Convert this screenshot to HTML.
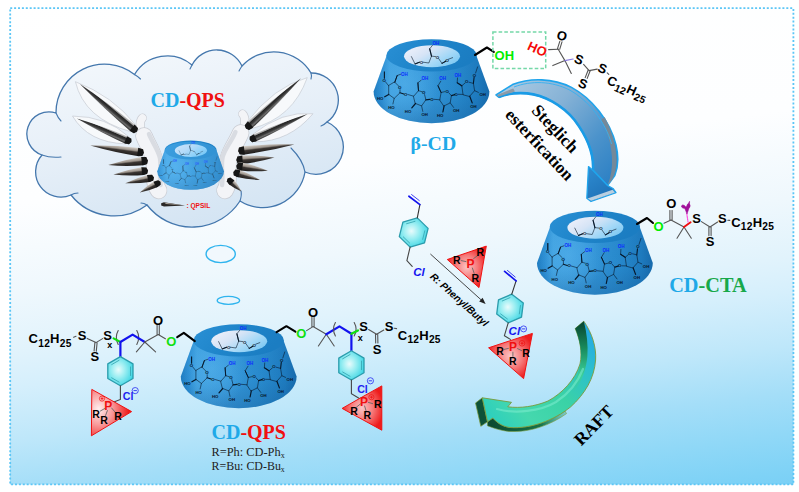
<!DOCTYPE html>
<html><head><meta charset="utf-8"><title>CD-QPS scheme</title>
<style>
html,body{margin:0;padding:0;background:#fff;}
body{width:799px;height:492px;overflow:hidden;}
svg{display:block;}
text{font-family:"Liberation Sans",sans-serif;}
.ser{font-family:"Liberation Serif",serif;}
.b{font-weight:bold;}
.ch{font-family:"Liberation Sans",sans-serif;font-weight:bold;font-size:14.5px;fill:#000;}
.sub{font-size:10px;}
.bond{stroke:#222;stroke-width:1.1;fill:none;stroke-linecap:round;}
.sg{stroke:#07182a;stroke-width:0.6;fill:none;stroke-linecap:round;stroke-linejoin:round;}
.st{font-family:"Liberation Sans",sans-serif;font-weight:bold;font-size:4.3px;fill:#06121f;}
.stb{font-family:"Liberation Sans",sans-serif;font-weight:bold;font-size:4.5px;fill:#0a2cff;}
</style></head><body>
<svg width="799" height="492" viewBox="0 0 799 492">
<defs>
<linearGradient id="bg" gradientUnits="userSpaceOnUse" x1="0" y1="0" x2="70.9" y2="580.9">
<stop offset="0" stop-color="#ffffff"/><stop offset="0.35" stop-color="#fdfeff"/><stop offset="0.5" stop-color="#eff8fd"/><stop offset="0.6" stop-color="#e1f3fc"/><stop offset="0.66" stop-color="#d5effc"/><stop offset="0.75" stop-color="#bee7fa"/><stop offset="0.83" stop-color="#a4def8"/><stop offset="0.9" stop-color="#90d8f7"/><stop offset="0.965" stop-color="#7ed2f6"/><stop offset="1" stop-color="#77cef5"/>
</linearGradient>
<linearGradient id="cloudg" x1="0.2" y1="0" x2="0.6" y2="1">
<stop offset="0" stop-color="#f4f8fc"/><stop offset="0.5" stop-color="#e6eff8"/><stop offset="1" stop-color="#d3e4f3"/>
</linearGradient>
</defs>
<rect x="0" y="0" width="799" height="492" fill="#fff"/>
<rect x="10" y="8" width="783.5" height="476.5" fill="url(#bg)"/>
<rect x="10.2" y="8.2" width="783.2" height="476.2" fill="none" stroke="#5cc6f6" stroke-width="1.8" stroke-dasharray="2 1.9"/>
<defs>
<linearGradient id="cdside" x1="0" y1="0" x2="1" y2="0">
<stop offset="0" stop-color="#1d7bc0"/><stop offset="0.07" stop-color="#288bd1"/><stop offset="0.14" stop-color="#3fa1e0"/><stop offset="0.4" stop-color="#3799db"/><stop offset="0.7" stop-color="#288acd"/><stop offset="0.9" stop-color="#1e7bbf"/><stop offset="1" stop-color="#176bad"/>
</linearGradient>
<linearGradient id="cdshade" x1="0" y1="0" x2="0" y2="1">
<stop offset="0" stop-color="#0b3c73" stop-opacity="0"/><stop offset="0.6" stop-color="#0b3c73" stop-opacity="0.02"/><stop offset="1" stop-color="#0b3c73" stop-opacity="0.22"/>
</linearGradient>
<radialGradient id="cdlite" gradientUnits="userSpaceOnUse" cx="405" cy="84" r="34" gradientTransform="translate(405,84) scale(1,1.2) translate(-405,-84)">
<stop offset="0" stop-color="#58b4ee" stop-opacity="0.55"/><stop offset="1" stop-color="#58b4ee" stop-opacity="0"/>
</radialGradient>
<linearGradient id="cdrim" x1="0" y1="0" x2="1" y2="0.3">
<stop offset="0" stop-color="#2a90d5"/><stop offset="0.5" stop-color="#1f85ca"/><stop offset="1" stop-color="#1b7dc2"/>
</linearGradient>
<linearGradient id="cdhole" x1="0.05" y1="0.2" x2="0.95" y2="0.8">
<stop offset="0" stop-color="#eceffa"/><stop offset="0.35" stop-color="#d6e4f6"/><stop offset="0.7" stop-color="#a3d8f7"/><stop offset="1" stop-color="#7cc8f2"/>
</linearGradient>
<!-- Cyclodextrin cone, drawn in beta-CD page coordinates -->
<g id="cd">
<path d="M386.5 56 L373.6 91.5 A57.9 31.8 0 0 0 489.4 91.5 L476.5 56 Z" fill="url(#cdside)"/>
<path d="M386.5 56 L373.6 91.5 A57.9 31.8 0 0 0 489.4 91.5 L476.5 56 Z" fill="url(#cdshade)"/>
<path d="M386.5 56 L373.6 91.5 A57.9 31.8 0 0 0 489.4 91.5 L476.5 56 Z" fill="url(#cdlite)"/>
<ellipse cx="431.5" cy="55.4" rx="45.2" ry="16.2" fill="url(#cdrim)"/>
<ellipse cx="432" cy="56.2" rx="28" ry="11" fill="url(#cdhole)"/>
<g transform="translate(0.2,-0.4)">
<!-- hole structure -->
<g class="sg">
<path d="M411.2 57 L414.8 64.3 L419.2 62.6 M423 62.6 L428.6 63.4 L431.3 56.5 L429.5 49.2 L432.2 45.8 M431.3 56.5 L435.4 57 M438.6 59.2 L441.8 63.8 L445.5 61.6"/>
<path d="M448.3 59.6 L452.8 57.9" stroke-dasharray="1 0.7"/>
<path d="M414.8 64.3 L419.2 62.6" stroke-width="1.1"/><path d="M431.3 56.5 L429.5 49.2" stroke-width="1.1"/><path d="M441.8 63.8 L445.5 61.6" stroke-width="1.1"/>
</g>
<text class="st" x="419.5" y="64">O</text><text class="st" x="435.6" y="59.2">O</text><text class="st" x="445.2" y="62.4">O</text>
<text class="stb" x="432.4" y="45.2">OH</text>
<!-- ring 1 -->
<g class="sg">
<path d="M394.6 82.6 L399.8 87.8 L399.8 93.2 L394 98.8 L388.5 94.8 L388.5 86.2 Z M394.6 82.6 L397 75.9 L400.6 74.6"/>
<path d="M388.5 86.2 L385.4 82.4 M384.2 78.6 L384.2 72.4"/>
<path d="M388.5 94.8 L384.5 97.2" stroke-width="1.2"/>
<path d="M394 98.8 L392.7 104.5" stroke-dasharray="0.9 0.7"/>
<path d="M399.8 93.2 L403.6 94.4" stroke-width="1.2"/>
<path d="M407.6 94.9 L413.5 96.6"/>
<path d="M394.6 82.6 L397 75.9" stroke-width="1.0"/>
<path d="M384.2 78.6 L384.2 72.4" stroke-width="1.0"/>
</g>
<circle cx="399.7" cy="87.9" r="1.9" fill="#3a9bdb"/><text class="st" x="397.9" y="89.5">O</text><text class="st" x="382.4" y="82.4">O</text><text class="st" x="403.8" y="96">O</text>
<text class="stb" x="400.8" y="76.3">OH</text>
<text class="st" x="376.8" y="100.6">HO</text><text class="st" x="388" y="109.6">HO</text>
<!-- ring 2 -->
<g class="sg">
<path d="M413.5 96.6 L418.3 91.1 L423.8 92.7 L425.7 100.2 L421.4 106.3 L415.3 103.9 Z M418.3 91.1 L417.7 83.2 L421 80.6"/>
<path d="M418.3 91.1 L417.7 83.2" stroke-width="1.0"/>
<path d="M415.3 103.9 L411.6 108.2" stroke-width="1.2"/>
<path d="M421.4 106.3 L422.6 111.8" stroke-dasharray="0.9 0.7"/>
<path d="M425.7 100.2 L429.6 99.7" stroke-width="1.2"/>
<path d="M433.8 99.7 L439.6 100.2"/>
</g>
<circle cx="423.6" cy="92.9" r="1.9" fill="#3294d6"/><text class="st" x="421.8" y="94.5">O</text><text class="st" x="430" y="101.3">O</text>
<text class="stb" x="421.4" y="80.9">OH</text>
<text class="st" x="404.6" y="113.2">HO</text><text class="st" x="421.2" y="116.9">OH</text>
<!-- ring 3 -->
<g class="sg">
<path d="M439.6 100.2 L440.9 92.9 L447 91.5 L451.2 96 L450 103.3 L443.9 106.3 Z M440.9 92.9 L437.8 86.2 L440.6 81.6"/>
<path d="M440.9 92.9 L437.8 86.2" stroke-width="1.0"/>
<path d="M443.9 106.3 L442.7 112.4" stroke-width="1.2"/>
<path d="M450 103.3 L453.7 108.2" stroke-dasharray="0.9 0.7"/>
<path d="M451.2 96 L454.6 95" stroke-width="1.2"/>
<path d="M458.2 94.7 L462.8 94.8"/>
</g>
<circle cx="447.0" cy="91.7" r="1.9" fill="#2a8cd0"/><text class="st" x="445.2" y="93.3">O</text><text class="st" x="454.4" y="96.3">O</text>
<text class="stb" x="439" y="80.9">OH</text>
<text class="st" x="436.8" y="117.5">HO</text><text class="st" x="452.8" y="112.6">OH</text>
<!-- ring 4 -->
<g class="sg">
<path d="M462.8 94.8 L461.6 86.2 L466.5 82 L473.2 83.8 L474.4 91.1 L469.5 96.6 Z M461.6 86.2 L457 83.2 L457.3 78.3"/>
<path d="M461.6 86.2 L457 83.2" stroke-width="1.1"/>
<path d="M473.2 83.8 L473.9 77.6" stroke-width="1.1"/>
<path d="M475.4 73.4 L477.4 67.3"/>
<path d="M474.4 91.1 L478.7 93" stroke-dasharray="0.9 0.7"/>
<path d="M469.5 96.6 L472 103.3" stroke-width="1.2"/>
</g>
<circle cx="466.6" cy="82.2" r="1.9" fill="#2484c9"/><text class="st" x="464.8" y="83.8">O</text><text class="st" x="472.6" y="77.3">O</text>
<text class="stb" x="454.2" y="77.2">OH</text>
<text class="st" x="479.2" y="96.8">OH</text><text class="st" x="470" y="108.4">OH</text>
</g>
</g>
</defs>
<!-- cloud -->
<g>
<path d="M 56 113 A 48.5 48.5 0 0 1 134.5 74.5 A 38.2 38.2 0 0 1 192 65 A 27.9 27.9 0 0 1 242 66 A 43.1 43.1 0 0 1 311 73 A 27.0 27.0 0 0 1 327 122 A 27.3 27.3 0 1 1 305 172 A 42.8 42.8 0 0 1 240 201 A 57.1 57.1 0 0 1 147 205 A 55.1 55.1 0 0 1 71 195 A 25.3 25.3 0 0 1 42 155 A 22.1 22.1 0 1 1 56 113 Z" fill="url(#cloudg)" stroke="#4477ad" stroke-width="1.3" stroke-linejoin="round"/>
<!-- inner tails -->
<g fill="none" stroke="#4477ad" stroke-width="1.1" stroke-linecap="round">
<path d="M56 113 q2 5 5 8"/>
<path d="M134.5 74.5 q3.5 2 6 4.5"/>
<path d="M192 65 q-1 2 -2 4"/>
<path d="M242 66 q-2 3 -3 5"/>
<path d="M311 73 q1 3 0 6"/>
<path d="M327 122 q-3 3 -6 4"/>
<path d="M305 172 q-2 -12 -14 -24"/>
<path d="M240 201 q2 -6 1 -10"/>
<path d="M147 205 q-3 -2 -6 -2"/>
<path d="M71 195 q3 -2 7 -2"/>
<path d="M42 155 q8 3 19 2"/>
</g>
</g>
<!-- thought bubbles -->
<ellipse cx="220.7" cy="254" rx="14.6" ry="8.6" fill="#f1f8fd" stroke="#2fb4ee" stroke-width="1.4"/>
<ellipse cx="228.4" cy="300.4" rx="11.2" ry="4" fill="#e9f5fc" stroke="#2fb4ee" stroke-width="1.3"/>
<!-- cloud label -->
<text class="ser b" x="150.5" y="107" font-size="20"><tspan fill="#1fa9e8">CD</tspan><tspan fill="#f01010">-QPS</tspan></text>
<defs>
<linearGradient id="fa" x1="0" y1="0" x2="0" y2="1"><stop offset="0" stop-color="#d9d3cc"/><stop offset="0.38" stop-color="#9c948c"/><stop offset="0.55" stop-color="#3a3532"/><stop offset="1" stop-color="#1d1b1a"/></linearGradient>
<linearGradient id="fb" x1="0" y1="1" x2="0" y2="0"><stop offset="0" stop-color="#d9d3cc"/><stop offset="0.38" stop-color="#9c948c"/><stop offset="0.55" stop-color="#3a3532"/><stop offset="1" stop-color="#1d1b1a"/></linearGradient>
<linearGradient id="fc" x1="0" y1="0" x2="0" y2="1"><stop offset="0" stop-color="#d8d8d8"/><stop offset="0.2" stop-color="#9a9a9a"/><stop offset="0.3" stop-color="#242424"/><stop offset="0.55" stop-color="#3a3a3a"/><stop offset="0.75" stop-color="#6e6e6e"/><stop offset="1" stop-color="#2a2a2a"/></linearGradient>
<linearGradient id="fd" x1="0" y1="1" x2="0" y2="0"><stop offset="0" stop-color="#d8d8d8"/><stop offset="0.2" stop-color="#9a9a9a"/><stop offset="0.3" stop-color="#242424"/><stop offset="0.55" stop-color="#3a3a3a"/><stop offset="0.75" stop-color="#6e6e6e"/><stop offset="1" stop-color="#2a2a2a"/></linearGradient>
<linearGradient id="rootg" x1="0" y1="0" x2="1" y2="0"><stop offset="0" stop-color="#c9ccd2"/><stop offset="0.5" stop-color="#f6f7f9"/><stop offset="1" stop-color="#e2e4e8"/></linearGradient>
</defs>
<!-- wings -->
<path d="M142.4 118 C139.6 121 139.6 127 141.6 132" fill="none" stroke="#c9ccd3" stroke-width="9" stroke-linecap="round"/>
<path d="M142.4 118 C139.6 121 139.6 127 141.6 132" fill="none" stroke="#f3f4f7" stroke-width="7.6" stroke-linecap="round"/>
<path d="M144 136 C147 144 152 150 154 159 C155.6 168 153.6 177 155.6 184 C156.6 187 157.6 189 158.6 190.4" fill="none" stroke="#c9ccd3" stroke-width="17.5" stroke-linecap="round" stroke-linejoin="round"/>
<path d="M144 136 C147 144 152 150 154 159 C155.6 168 153.6 177 155.6 184 C156.6 187 157.6 189 158.6 190.4" fill="none" stroke="#f3f4f7" stroke-width="16" stroke-linecap="round" stroke-linejoin="round"/>
<path d="M149 134 C152 142 158 149 160 158 C161.6 167 159 177 160.6 185" fill="none" stroke="#d9dce2" stroke-width="4.5" stroke-linecap="round"/>
<path d="M242.6 114 C245.4 117 245.4 123 243.4 128" fill="none" stroke="#c9ccd3" stroke-width="9" stroke-linecap="round"/>
<path d="M242.6 114 C245.4 117 245.4 123 243.4 128" fill="none" stroke="#f3f4f7" stroke-width="7.6" stroke-linecap="round"/>
<path d="M240.6 133 C237 142 231 149 228.6 158 C226.6 167 229 177 227.4 184 C226.8 187 226 189 225 190.4" fill="none" stroke="#c9ccd3" stroke-width="17.5" stroke-linecap="round" stroke-linejoin="round"/>
<path d="M240.6 133 C237 142 231 149 228.6 158 C226.6 167 229 177 227.4 184 C226.8 187 226 189 225 190.4" fill="none" stroke="#f3f4f7" stroke-width="16" stroke-linecap="round" stroke-linejoin="round"/>
<path d="M235.4 132 C232 141 225 148 222.6 157 C220.6 166 223.4 177 222 185" fill="none" stroke="#d9dce2" stroke-width="4.5" stroke-linecap="round"/>
<g transform="translate(79.9,84.1) rotate(39.7)"><path d="M-5 1.0 Q32.8 -12.0 69.9 -4.0 L69.9 4.0 Q25.5 24.0 -5 1.0 Z" fill="#f8f9fb" fill-opacity="0.95" stroke="#c3c8d0" stroke-width="0.6"/><path d="M0 0 Q32.8 -3.4 69.4 -4.0 L72.9 -3.2 L74.1 0 L72.9 3.2 L69.4 4.0 Q32.8 3.4 0 0 Z" fill="url(#fc)"/><path d="M67.9 -3.9 L72.9 -3.2 L74.1 0 L72.9 3.2 L67.9 3.9 Z" fill="#161616"/></g>
<g transform="translate(76.9,118.4) rotate(23.5)"><path d="M-5 -0.4 Q26.2 -13.8 55.1 -3.8 L55.1 3.8 Q20.3 17.8 -5 -0.4 Z" fill="#f8f9fb" fill-opacity="0.95" stroke="#c3c8d0" stroke-width="0.6"/><path d="M0 0 Q26.2 -3.2 54.6 -3.8 L58.1 -3.0 L59.3 0 L58.1 3.0 L54.6 3.8 Q26.2 3.2 0 0 Z" fill="url(#fc)"/><path d="M53.1 -3.7 L58.1 -3.0 L59.3 0 L58.1 3.0 L53.1 3.7 Z" fill="#161616"/></g>
<g transform="translate(90.3,145.6) rotate(7.6)"><path d="M0 0 Q23.7 -3.6 49.3 -4.2 L52.8 -3.4 L54.0 0 L52.8 3.4 L49.3 4.2 Q23.7 3.6 0 0 Z" fill="url(#fa)"/><path d="M47.8 -4.1 L52.8 -3.4 L54.0 0 L52.8 3.4 L47.8 4.1 Z" fill="#161616"/></g>
<g transform="translate(108.1,165.1) rotate(-6.7)"><path d="M0 0 Q17.4 -3.7 35.3 -4.3 L38.8 -3.5 L40.0 0 L38.8 3.5 L35.3 4.3 Q17.4 3.7 0 0 Z" fill="url(#fa)"/><path d="M33.8 -4.2 L38.8 -3.5 L40.0 0 L38.8 3.5 L33.8 4.2 Z" fill="#161616"/></g>
<g transform="translate(113.4,174.6) rotate(-6.8)"><path d="M0 0 Q15.1 -3.4 30.1 -4.0 L33.6 -3.2 L34.8 0 L33.6 3.2 L30.1 4.0 Q15.1 3.4 0 0 Z" fill="url(#fa)"/><path d="M28.6 -3.9 L33.6 -3.2 L34.8 0 L33.6 3.2 L28.6 3.9 Z" fill="#161616"/></g>
<g transform="translate(125.3,183.2) rotate(-11.6)"><path d="M0 0 Q12.5 -3.1 24.4 -3.7 L27.9 -2.9 L29.1 0 L27.9 2.9 L24.4 3.7 Q12.5 3.1 0 0 Z" fill="url(#fa)"/><path d="M22.9 -3.6 L27.9 -2.9 L29.1 0 L27.9 2.9 L22.9 3.6 Z" fill="#161616"/></g>
<g transform="translate(139.8,192.5) rotate(-27.3)"><path d="M0 0 Q9.9 -2.8 18.5 -3.3 L22.0 -2.5 L23.2 0 L22.0 2.5 L18.5 3.3 Q9.9 2.8 0 0 Z" fill="url(#fa)"/><path d="M17.0 -3.2 L22.0 -2.5 L23.2 0 L22.0 2.5 L17.0 3.2 Z" fill="#161616"/></g>
<g transform="translate(301.0,78.2) rotate(137.6)"><path d="M-5 -3.8 Q33.0 -24.0 70.3 -4.0 L70.3 4.0 Q25.6 12.0 -5 -3.8 Z" fill="#f8f9fb" fill-opacity="0.95" stroke="#c3c8d0" stroke-width="0.6"/><path d="M0 0 Q33.0 -3.4 69.8 -4.0 L73.3 -3.2 L74.5 0 L73.3 3.2 L69.8 4.0 Q33.0 3.4 0 0 Z" fill="url(#fd)"/><path d="M68.3 -3.9 L73.3 -3.2 L74.5 0 L73.3 3.2 L68.3 3.9 Z" fill="#161616"/></g>
<g transform="translate(307.6,114.0) rotate(155.7)"><path d="M-5 -2.0 Q28.0 -17.8 59.2 -3.8 L59.2 3.8 Q21.8 13.8 -5 -2.0 Z" fill="#f8f9fb" fill-opacity="0.95" stroke="#c3c8d0" stroke-width="0.6"/><path d="M0 0 Q28.0 -3.2 58.7 -3.8 L62.2 -3.0 L63.4 0 L62.2 3.0 L58.7 3.8 Q28.0 3.2 0 0 Z" fill="url(#fd)"/><path d="M57.2 -3.7 L62.2 -3.0 L63.4 0 L62.2 3.0 L57.2 3.7 Z" fill="#161616"/></g>
<g transform="translate(294.4,144.4) rotate(173.2)"><path d="M0 0 Q24.9 -3.6 51.9 -4.2 L55.4 -3.4 L56.6 0 L55.4 3.4 L51.9 4.2 Q24.9 3.6 0 0 Z" fill="url(#fb)"/><path d="M50.4 -4.1 L55.4 -3.4 L56.6 0 L55.4 3.4 L50.4 4.1 Z" fill="#161616"/></g>
<g transform="translate(274.5,157.6) rotate(176.3)"><path d="M0 0 Q16.6 -3.7 33.5 -4.3 L37.0 -3.5 L38.2 0 L37.0 3.5 L33.5 4.3 Q16.6 3.7 0 0 Z" fill="url(#fb)"/><path d="M32.0 -4.2 L37.0 -3.5 L38.2 0 L37.0 3.5 L32.0 4.2 Z" fill="#161616"/></g>
<g transform="translate(267.9,170.8) rotate(-171.0)"><path d="M0 0 Q13.8 -3.4 27.2 -4.0 L30.7 -3.2 L31.9 0 L30.7 3.2 L27.2 4.0 Q13.8 3.4 0 0 Z" fill="url(#fb)"/><path d="M25.7 -3.9 L30.7 -3.2 L31.9 0 L30.7 3.2 L25.7 3.9 Z" fill="#161616"/></g>
<g transform="translate(260.0,180.0) rotate(-163.3)"><path d="M0 0 Q11.9 -3.1 23.0 -3.7 L26.5 -2.9 L27.7 0 L26.5 2.9 L23.0 3.7 Q11.9 3.1 0 0 Z" fill="url(#fb)"/><path d="M21.5 -3.6 L26.5 -2.9 L27.7 0 L26.5 2.9 L21.5 3.6 Z" fill="#161616"/></g>
<g transform="translate(241.5,191.5) rotate(-136.8)"><path d="M0 0 Q8.0 -2.8 14.2 -3.3 L17.7 -2.5 L18.9 0 L17.7 2.5 L14.2 3.3 Q8.0 2.8 0 0 Z" fill="url(#fb)"/><path d="M12.7 -3.2 L17.7 -2.5 L18.9 0 L17.7 2.5 L12.7 3.2 Z" fill="#161616"/></g>
<use href="#cd" transform="translate(-57.5,117.5) scale(0.575,0.587)"/>
<path d="M164.7 150.4 L157.3 171.2 A33.3 18.7 0 0 0 223.9 171.2 L216.5 150.4 A26 9.5 0 0 0 164.7 150.4 Z" fill="#6cc8ff" fill-opacity="0.3"/>
<path d="M161.2 203.2 L164 202.2 L185 205.6 L164 206.4 L161.2 205.4 Z" fill="#2a2826"/>
<path d="M164 202.4 L185 205.6 L166 204 Z" fill="#a8a098"/>
<text x="186.4" y="207.6" font-weight="bold" font-size="6.6" fill="#f01010">: QPSIL</text>
<!-- beta-CD -->
<use href="#cd"/>
<text class="ser b" x="410.6" y="150.1" font-size="19.8" fill="#1fa9e8">β-CD</text>
<!-- CD-CTA -->
<use href="#cd" transform="translate(163.4,171.5)"/>
<text class="ser b" x="669.2" y="291.6" font-size="20.3"><tspan fill="#1fa9e8">CD</tspan><tspan fill="#17a84a">-CTA</tspan></text>
<!-- CD-QPS -->
<use href="#cd" transform="translate(-192.8,285)"/>
<text class="ser b" x="211.5" y="438.9" font-size="20"><tspan fill="#1fa9e8">CD</tspan><tspan fill="#f01010">-QPS</tspan></text>
<text class="ser" x="211.5" y="456.4" font-size="11.6" fill="#222" textLength="73.2" lengthAdjust="spacingAndGlyphs">R=Ph: CD-Ph<tspan font-size="7.5" dy="2">x</tspan></text>
<text class="ser" x="211.5" y="470.4" font-size="11.6" fill="#222" textLength="73.2" lengthAdjust="spacingAndGlyphs">R=Bu: CD-Bu<tspan font-size="7.5" dy="2">x</tspan></text>
<!-- beta-CD arm + box -->
<path class="bond" d="M475.0 55.0 L486.9 47.5 L493.8 51.9" style="stroke:#000;stroke-width:2.1;stroke-linejoin:round"/>
<rect x="492.9" y="31.9" width="52.8" height="36.7" fill="none" stroke="#74d8a8" stroke-width="1.5" stroke-dasharray="3.6 2.1"/>
<text x="494.6" y="59.5" font-weight="bold" font-size="13" fill="#00ee00">OH</text>
<text transform="translate(526.6,49.2) rotate(24)" font-weight="bold" font-size="13" fill="#f50a0a">HO</text>
<!-- free CTA -->
<path class="bond" d="M548.6 49.6 L558.2 49.2" style="stroke:#555"/>
<path class="bond" d="M559.7 49.3 L562.0 41.9" style="stroke:#555"/>
<path class="bond" d="M557.5 48.7 L559.8 41.3" style="stroke:#555"/>
<text transform="translate(562.1,35.6) rotate(18)" y="4.65" text-anchor="middle" font-weight="bold" font-size="13" fill="#000" >O</text>
<path class="bond" d="M558.2 49.2 L564.9 60.6" style="stroke:#555"/>
<path class="bond" d="M564.9 60.6 L552.8 65.6" style="stroke:#555"/>
<path class="bond" d="M564.9 60.6 L571.3 73.4" style="stroke:#555"/>
<path class="bond" d="M564.9 60.6 L573.2 59.0" style="stroke:#8a7be0;stroke-width:1.1"/>
<text transform="translate(579.1,59.2) rotate(22)" y="4.65" text-anchor="middle" font-weight="bold" font-size="13" fill="#000" >S</text>
<path class="bond" d="M583.6 64.3 L589.1 70.6" style="stroke:#555"/>
<path class="bond" d="M588.1 70.2 L585.2 77.6" style="stroke:#555"/>
<path class="bond" d="M590.1 71.0 L587.2 78.4" style="stroke:#555"/>
<text transform="translate(582.9,83.6) rotate(22)" y="4.65" text-anchor="middle" font-weight="bold" font-size="13" fill="#000" >S</text>
<path class="bond" d="M589.1 70.6 L597.2 69.1" style="stroke:#555"/>
<text transform="translate(602.6,68.4) rotate(22)" y="4.65" text-anchor="middle" font-weight="bold" font-size="13" fill="#000" >S</text>
<path class="bond" d="M607.2 72.9 L608.8 74.4" style="stroke:#555"/>
<text transform="translate(605.9,83.6) rotate(24)" font-weight="bold" font-size="13" fill="#000" letter-spacing="0.25">C<tspan font-size="10.2" dy="3.2">12</tspan><tspan dy="-3.2">H</tspan><tspan font-size="10.2" dy="3.2">25</tspan></text>
<!-- CD-CTA arm -->
<path class="bond" d="M637.0 224.0 L647.0 218.0 L653.0 223.0" style="stroke:#000;stroke-width:2.1;stroke-linejoin:round"/>
<text transform="translate(658.6,226.2)" y="4.65" text-anchor="middle" font-weight="bold" font-size="13" fill="#00ee00" >O</text>
<path class="bond" d="M664.0 223.2 L671.0 220.0" style="stroke:#555"/>
<path class="bond" d="M672.1 220.0 L672.1 210.6" style="stroke:#555"/>
<path class="bond" d="M669.9 220.0 L669.9 210.6" style="stroke:#555"/>
<text transform="translate(671.2,203.4)" y="4.65" text-anchor="middle" font-weight="bold" font-size="13" fill="#000" >O</text>
<path class="bond" d="M671.0 220.0 L684.0 227.0" style="stroke:#555"/>
<path class="bond" d="M684.0 227.0 L677.0 238.2" style="stroke:#555"/>
<path class="bond" d="M684.0 227.0 L691.3 238.2" style="stroke:#555"/>
<path class="bond" d="M684.0 227.0 L690.6 222.2" style="stroke:#f01010;stroke-width:1.9"/>
<path class="bond" d="M686.8 213.5 L688.0 222.0" style="stroke:#ff50e0;stroke-width:1.2;stroke-dasharray:1.6 1"/>
<g fill="#a0109a" stroke="#a0109a" stroke-width="0.5"><ellipse cx="683.4" cy="206.6" rx="2" ry="1.5" transform="rotate(25 683.4 206.6)"/><ellipse cx="688.6" cy="205.8" rx="1.6" ry="1.9"/><path d="M684.4 207.6 L687 214 L689.4 207.2 L689.6 201.2 L686.8 206.2 Z"/></g>
<text transform="translate(696.6,217.9)" y="4.65" text-anchor="middle" font-weight="bold" font-size="13" fill="#000" >S</text>
<path class="bond" d="M701.4 221.6 L710.0 227.0" style="stroke:#555"/>
<path class="bond" d="M708.9 227.0 L708.9 235.6" style="stroke:#555"/>
<path class="bond" d="M711.1 227.0 L711.1 235.6" style="stroke:#555"/>
<text transform="translate(710.0,241.4)" y="4.65" text-anchor="middle" font-weight="bold" font-size="13" fill="#000" >S</text>
<path class="bond" d="M710.0 227.0 L717.6 222.0" style="stroke:#555"/>
<text transform="translate(722.3,217.9)" y="4.65" text-anchor="middle" font-weight="bold" font-size="13" fill="#000" >S</text>
<path class="bond" d="M727.8 220.2 L729.8 220.4" style="stroke:#555"/>
<text transform="translate(731.2,226.7)" font-weight="bold" font-size="13" fill="#000" letter-spacing="0.25">C<tspan font-size="10.2" dy="3.2">12</tspan><tspan dy="-3.2">H</tspan><tspan font-size="10.2" dy="3.2">25</tspan></text>
<!-- Steglich arrow -->
<defs>
<linearGradient id="stg" gradientUnits="userSpaceOnUse" x1="505" y1="88" x2="612" y2="185">
<stop offset="0" stop-color="#a9c9e2"/><stop offset="0.35" stop-color="#86b2d6"/><stop offset="0.7" stop-color="#4c93cb"/><stop offset="1" stop-color="#2a7fc4"/>
</linearGradient>
<linearGradient id="sth" gradientUnits="userSpaceOnUse" x1="588" y1="168" x2="610" y2="200">
<stop offset="0" stop-color="#2e8bd0"/><stop offset="1" stop-color="#1d6fb5"/>
</linearGradient>
</defs>
<g stroke-linejoin="round">
<path d="M512.5 84.6 C530 77.6 553 78 571.5 87.4 C592 98.4 610 121 616 145 C618.6 156 617.8 168 614.8 175.5 L607.5 185.5 L593 170 C594 153.5 587 136.5 574.5 120 C562 105 544 95 527 93.4 C515 92.6 505 94.2 498.7 97.2 L496 95 Z" fill="url(#stg)" stroke="#1fa4ec" stroke-width="1.6"/>
<!-- grey side strip near head -->
<path d="M604.5 117 C611.4 129.5 616.6 146 616.6 160 C616.6 168 615.2 174 612 180 L607.8 185 C611 176 612.4 168 612 158 C611.2 143 607 130 601 120 Z" fill="#74899a"/>
<!-- inner thick cyan edge -->
<path d="M593 170 C594 153.5 587 136.5 574.5 120 C562 105 544 95 527 93.4 C515 92.6 505 94.2 498.7 97.2" fill="none" stroke="#1a9be6" stroke-width="2.6"/>
<path d="M514 87 C531 80.4 552 81 569.5 90 C588 100 605 121 611.6 144" fill="none" stroke="#35b0f0" stroke-width="0.9"/>
<!-- tail end face -->
<path d="M498.4 96.8 L515 91.4 L513.2 88.4 L497 95 Z" fill="#8d9aa6"/>
<!-- arrow head -->
<path d="M588.5 166.6 L592.8 170.2 L607.3 185.4 L613 188.5 L616 192.6 L591 201.5 L586.8 198.3 Z" fill="url(#sth)" stroke="#1fa4ec" stroke-width="1.3"/>
<path d="M587.6 198.6 L591.2 200.8 L615 192.4 L612.6 189.8 Z" fill="#b9cfe0"/>
</g>
<text class="ser b" transform="translate(530.7,111.3) rotate(46.4)" font-size="17.4" fill="#000">Steglich</text>
<text class="ser b" transform="translate(504.2,115.4) rotate(46.8)" font-size="17.3" fill="#000">esterfication</text>
<!-- RAFT arrow -->
<defs>
<linearGradient id="rfg" gradientUnits="userSpaceOnUse" x1="588" y1="325" x2="488" y2="412">
<stop offset="0" stop-color="#23a9e6"/><stop offset="0.22" stop-color="#2cc0cc"/><stop offset="0.5" stop-color="#3ad2a6"/><stop offset="0.8" stop-color="#45d8ae"/><stop offset="1" stop-color="#2fd0bc"/>
</linearGradient>
<linearGradient id="rfd" gradientUnits="userSpaceOnUse" x1="580" y1="324" x2="578" y2="392">
<stop offset="0" stop-color="#0a4a33"/><stop offset="0.35" stop-color="#188a5c"/><stop offset="0.75" stop-color="#3bcf98"/><stop offset="1" stop-color="#3bcf98" stop-opacity="0"/>
</linearGradient>
<linearGradient id="rfs" gradientUnits="userSpaceOnUse" x1="490" y1="420" x2="572" y2="408">
<stop offset="0" stop-color="#0c4a30"/><stop offset="0.6" stop-color="#17734a"/><stop offset="1" stop-color="#2aa878" stop-opacity="0.2"/>
</linearGradient>
</defs>
<g stroke-linejoin="round">
<!-- shadow/thickness under body -->
<path d="M487.5 421.8 L492.8 418 C497 422.5 502 426.5 510 427.5 C528 428.8 549 422 565 411 L566.5 413.6 C550 425.5 529 432.8 509 431.4 C499 430.4 492 427.4 487.4 425.8 Z" fill="url(#rfs)" stroke="#7c9a3a" stroke-width="0.6"/>
<!-- dark end face of head -->
<path d="M475.5 403 L482.3 397.8 L487.5 421.8 L480.8 426.3 Z" fill="#0d5238" stroke="#7c9a3a" stroke-width="0.7"/>
<!-- body + head -->
<path d="M583.8 321.2 C592 333 596.5 347 595.6 360 C594.4 378 585 394 570.5 407 C554 420.5 530 429 510 427.5 C502 426.5 497 422.5 492.8 418 L487.5 421.8 L482.3 397.8 L511.5 402.3 L507.8 406.8 C520 408.5 535 406.5 548 401 C562 393.5 575 380 580 364 C582.5 352 580 340 575.2 328.5 Z" fill="url(#rfg)" stroke="#7c9a3a" stroke-width="0.9"/>
<!-- dark band near top -->
<path d="M575.2 328.5 L583.8 321.2 C586.8 333 588.2 345 587.4 356 C586.5 368 582 381 574.5 391 L570.5 387 C576.5 379 580.3 369 581 359 C581.5 348 579 338 575.2 328.5 Z" fill="url(#rfd)"/>
<!-- light highlight along the middle -->
<path d="M497 409 C515 414 540 411.5 556 402 C568 394 578 382 583 369" fill="none" stroke="#7deccf" stroke-width="2.2" stroke-opacity="0.55" stroke-linecap="round"/>
</g>
<text class="ser b" transform="translate(581.2,446.6) rotate(-45.5)" font-size="17.6" fill="#000">RAFT</text>
<defs>
<radialGradient id="bzg" cx="0.42" cy="0.45" r="0.6"><stop offset="0" stop-color="#e9fbfc"/><stop offset="0.45" stop-color="#9aeef2"/><stop offset="1" stop-color="#3fd6e4"/></radialGradient>
<radialGradient id="trl" cx="0.18" cy="0.42" r="0.75"><stop offset="0" stop-color="#fff0f0"/><stop offset="0.45" stop-color="#f99c9c"/><stop offset="1" stop-color="#ee1c1c"/></radialGradient>
<radialGradient id="trg" cx="0.5" cy="0.5" r="0.55"><stop offset="0" stop-color="#fbc6c6"/><stop offset="0.5" stop-color="#f67a7a"/><stop offset="1" stop-color="#ee1c1c"/></radialGradient>
</defs>
<!-- monomer -->
<polygon points="417.3,217.9 428.1,228.4 424.5,242.9 410.1,247.1 399.3,236.6 402.9,222.1" fill="url(#bzg)" stroke="#2b9cac" stroke-width="1.3" stroke-linejoin="round"/>
<path d="M406.2 223.8 L415.4 221.2" stroke="#3aa9b6" stroke-width="0.9" fill="none"/>
<path d="M424.9 230.4 L422.6 239.7" stroke="#3aa9b6" stroke-width="0.9" fill="none"/>
<path d="M409.9 243.3 L403.0 236.6" stroke="#3aa9b6" stroke-width="0.9" fill="none"/>
<path class="bond" d="M417.3 217.9 L419.9 204.6" style="stroke:#333"/>
<path class="bond" d="M419.9 204.6 L408.9 196.2" style="stroke:#1212ee;stroke-width:1.7"/>
<path class="bond" d="M419.3 200.6 L411.6 194.6" style="stroke:#1212ee;stroke-width:0.8"/>
<path class="bond" d="M410.1 247.1 L406.9 260.5 L412.2 266.4" style="stroke:#444"/>
<text x="413.2" y="276.0" font-weight="bold" font-style="italic" font-size="11.5" fill="#1414f0">Cl</text>
<path d="M430.4 254 L483.5 302" stroke="#333" stroke-width="0.9" fill="none"/>
<path d="M485.6 304 L479.2 301.4 L482.6 297.8 Z" fill="#222"/>
<text transform="translate(429.6,277.6) rotate(42)" font-weight="bold" font-style="italic" font-size="10" fill="#000">R: Phenyl/Butyl</text>
<polygon points="447.3,259.5 486.3,246.1 479.0,287.6" fill="url(#trg)" stroke="#f01212" stroke-width="1" stroke-linejoin="round"/>
<path class="bond" d="M461.2 260.6 L466.0 261.6" style="stroke:#666;stroke-width:0.9"/>
<path class="bond" d="M473.6 258.6 L477.6 255.6" style="stroke:#666;stroke-width:0.9"/>
<path class="bond" d="M472.4 268.0 L474.2 273.4" style="stroke:#666;stroke-width:0.9"/>
<text transform="translate(456.9,260.7)" y="3.76" text-anchor="middle" font-weight="bold" font-size="10.5" fill="#000" >R</text>
<text transform="translate(470.4,263.2)" y="4.30" text-anchor="middle" font-weight="bold" font-size="12" fill="#f01010" >P</text>
<text transform="translate(480.2,252.7)" y="3.76" text-anchor="middle" font-weight="bold" font-size="10.5" fill="#000" >R</text>
<text transform="translate(475.3,277.8)" y="3.76" text-anchor="middle" font-weight="bold" font-size="10.5" fill="#000" >R</text>
<!-- product monomer -->
<polygon points="511.8,294.2 523.3,302.9 521.5,317.2 508.2,322.8 496.7,314.1 498.5,299.8" fill="url(#bzg)" stroke="#2b9cac" stroke-width="1.3" stroke-linejoin="round"/>
<path d="M501.9 301.1 L510.3 297.5" stroke="#3aa9b6" stroke-width="0.9" fill="none"/>
<path d="M520.5 305.1 L519.3 314.3" stroke="#3aa9b6" stroke-width="0.9" fill="none"/>
<path d="M507.7 319.2 L500.3 313.7" stroke="#3aa9b6" stroke-width="0.9" fill="none"/>
<path class="bond" d="M511.8 294.2 L516.1 280.9" style="stroke:#333"/>
<path class="bond" d="M516.1 280.9 L504.6 271.4" style="stroke:#1212ee;stroke-width:1.7"/>
<path class="bond" d="M515.2 277.0 L507.4 270.4" style="stroke:#1212ee;stroke-width:0.8"/>
<path class="bond" d="M508.2 322.8 L504.4 335.7 L510.4 339.4" style="stroke:#444"/>
<polygon points="488.6,347.8 532.4,333.4 523.6,378.6" fill="url(#trg)" stroke="#f01212" stroke-width="1" stroke-linejoin="round"/>
<text x="508.6" y="334.6" font-weight="bold" font-style="italic" font-size="11.5" fill="#1414f0">Cl</text>
<circle cx="523.6" cy="328.9" r="3.0" fill="none" stroke="#1414f0" stroke-width="0.7"/>
<path d="M522.0 328.9 h3.3" stroke="#1414f0" stroke-width="0.8"/>
<path class="bond" d="M504.2 349.4 L508.4 348.4" style="stroke:#666;stroke-width:0.9"/>
<path class="bond" d="M517.6 348.6 L521.6 350.6" style="stroke:#666;stroke-width:0.9"/>
<path class="bond" d="M512.9 352.2 L512.9 356.4" style="stroke:#666;stroke-width:0.9"/>
<text transform="translate(512.9,346.9)" y="4.30" text-anchor="middle" font-weight="bold" font-size="12" fill="#f01010" >P</text>
<circle cx="522.0" cy="343.3" r="2.8" fill="none" stroke="#f01010" stroke-width="0.7"/>
<path d="M520.5 343.3 h3.1" stroke="#f01010" stroke-width="0.8"/>
<path d="M522.0 341.8 v3.1" stroke="#f01010" stroke-width="0.8"/>
<text transform="translate(500.0,351.0)" y="3.76" text-anchor="middle" font-weight="bold" font-size="10.5" fill="#000" >R</text>
<text transform="translate(526.0,352.9)" y="3.76" text-anchor="middle" font-weight="bold" font-size="10.5" fill="#000" >R</text>
<text transform="translate(512.9,361.5)" y="3.76" text-anchor="middle" font-weight="bold" font-size="10.5" fill="#000" >R</text>
<!-- left arm -->
<text transform="translate(28.6,343.4)" font-weight="bold" font-size="13" fill="#000" letter-spacing="0.25">C<tspan font-size="10.2" dy="3.2">12</tspan><tspan dy="-3.2">H</tspan><tspan font-size="10.2" dy="3.2">25</tspan></text>
<path class="bond" d="M73.6 337.2 L76.0 336.2" style="stroke:#555"/>
<text transform="translate(82.2,335.1)" y="4.65" text-anchor="middle" font-weight="bold" font-size="13" fill="#000" >S</text>
<path class="bond" d="M87.2 338.4 L96.0 342.6" style="stroke:#555"/>
<path class="bond" d="M94.9 342.5 L94.1 350.9" style="stroke:#555"/>
<path class="bond" d="M97.1 342.7 L96.3 351.1" style="stroke:#555"/>
<text transform="translate(94.8,356.8)" y="4.65" text-anchor="middle" font-weight="bold" font-size="13" fill="#000" >S</text>
<path class="bond" d="M96.0 342.6 L102.6 338.6" style="stroke:#555"/>
<text transform="translate(107.7,335.1)" y="4.65" text-anchor="middle" font-weight="bold" font-size="13" fill="#000" >S</text>
<text transform="translate(109.8,344.6)" y="3.22" text-anchor="middle" font-weight="bold" font-size="9" fill="#000" >x</text>
<path d="M118.2 330.6 Q114.4 337.5 118.2 344.4" class="bond" style="stroke:#555"/>
<path d="M136.8 330.6 Q140.6 337.5 136.8 344.4" class="bond" style="stroke:#555"/>
<path class="bond" d="M113.6 338.4 L120.4 342.0" style="stroke:#10e010;stroke-width:2.2"/>
<path class="bond" d="M120.4 356.8 L120.4 342.0 L132.6 334.6 L144.8 342.0" style="stroke:#1212ee;stroke-width:2.2;stroke-linejoin:round"/>
<path class="bond" d="M144.8 342.0 L136.4 351.8" style="stroke:#555"/>
<path class="bond" d="M144.8 342.0 L155.6 351.8" style="stroke:#555"/>
<path class="bond" d="M144.8 342.0 L158.2 334.6" style="stroke:#555"/>
<path class="bond" d="M159.3 334.6 L159.3 325.4" style="stroke:#555"/>
<path class="bond" d="M157.1 334.6 L157.1 325.4" style="stroke:#555"/>
<text transform="translate(158.0,320.6)" y="4.65" text-anchor="middle" font-weight="bold" font-size="13" fill="#000" >O</text>
<path class="bond" d="M158.2 334.6 L165.4 338.8" style="stroke:#555"/>
<text transform="translate(171.2,341.6)" y="4.65" text-anchor="middle" font-weight="bold" font-size="13" fill="#10e010" >O</text>
<path class="bond" d="M177.2 337.2 L183.8 332.8 L194.8 341.2" style="stroke:#000;stroke-width:2.1;stroke-linejoin:round"/>
<polygon points="120.4,356.6 133.0,363.9 133.0,378.5 120.4,385.8 107.8,378.5 107.8,363.9" fill="url(#bzg)" stroke="#2b9cac" stroke-width="1.3" stroke-linejoin="round"/>
<path d="M111.3 364.8 L119.4 360.1" stroke="#3aa9b6" stroke-width="0.9" fill="none"/>
<path d="M130.5 366.5 L130.5 375.9" stroke="#3aa9b6" stroke-width="0.9" fill="none"/>
<path d="M119.4 382.3 L111.3 377.6" stroke="#3aa9b6" stroke-width="0.9" fill="none"/>
<path class="bond" d="M120.4 385.8 L120.4 399.4 L112.6 402.4" style="stroke:#444"/>
<polygon points="91.8,389.4 131.6,411.6 91.4,435.8" fill="url(#trl)" stroke="#f01212" stroke-width="1" stroke-linejoin="round"/>
<text x="122.8" y="400.4" font-weight="bold" font-size="10.6" fill="#2020f0">Cl</text>
<circle cx="135.2" cy="390.6" r="3.1" fill="none" stroke="#1414f0" stroke-width="0.7"/>
<path d="M133.5 390.6 h3.4" stroke="#1414f0" stroke-width="0.8"/>
<path class="bond" d="M104.6 408.6 L100.4 411.0" style="stroke:#666;stroke-width:0.9"/>
<path class="bond" d="M107.4 410.6 L105.6 415.4" style="stroke:#666;stroke-width:0.9"/>
<path class="bond" d="M111.6 408.0 L115.0 412.0" style="stroke:#666;stroke-width:0.9"/>
<text transform="translate(108.2,405.4)" y="4.30" text-anchor="middle" font-weight="bold" font-size="12" fill="#f01010" >P</text>
<circle cx="102.0" cy="398.6" r="2.6" fill="none" stroke="#f01010" stroke-width="0.7"/>
<path d="M100.6 398.6 h2.9" stroke="#f01010" stroke-width="0.8"/>
<path d="M102.0 397.2 v2.9" stroke="#f01010" stroke-width="0.8"/>
<text transform="translate(96.0,414.0)" y="3.76" text-anchor="middle" font-weight="bold" font-size="10.5" fill="#000" >R</text>
<text transform="translate(104.0,420.6)" y="3.76" text-anchor="middle" font-weight="bold" font-size="10.5" fill="#000" >R</text>
<text transform="translate(118.0,416.4)" y="3.76" text-anchor="middle" font-weight="bold" font-size="10.5" fill="#000" >R</text>
<!-- right arm -->
<path class="bond" d="M276.6 332.2 L286.4 326.2 L295.4 331.6" style="stroke:#000;stroke-width:2.1;stroke-linejoin:round"/>
<text transform="translate(301.2,333.8)" y="4.65" text-anchor="middle" font-weight="bold" font-size="13" fill="#10e010" >O</text>
<path class="bond" d="M306.6 330.6 L313.0 326.6" style="stroke:#555"/>
<path class="bond" d="M314.1 326.6 L314.1 317.6" style="stroke:#555"/>
<path class="bond" d="M311.9 326.6 L311.9 317.6" style="stroke:#555"/>
<text transform="translate(313.0,312.8)" y="4.65" text-anchor="middle" font-weight="bold" font-size="13" fill="#000" >O</text>
<path class="bond" d="M313.0 326.6 L326.3 334.2" style="stroke:#555"/>
<path class="bond" d="M326.3 334.2 L318.4 346.0" style="stroke:#555"/>
<path class="bond" d="M326.3 334.2 L334.2 346.0" style="stroke:#555"/>
<path class="bond" d="M326.3 334.2 L339.5 326.4 L351.4 333.8 L351.4 350.4" style="stroke:#1212ee;stroke-width:2.2;stroke-linejoin:round"/>
<path d="M335.4 322.6 Q331.6 329.3 335.4 336" class="bond" style="stroke:#555"/>
<path d="M354.2 322.6 Q358 329.3 354.2 336" class="bond" style="stroke:#555"/>
<path class="bond" d="M351.4 333.8 L358.0 330.4" style="stroke:#10e010;stroke-width:2.2"/>
<text transform="translate(363.6,326.5)" y="4.65" text-anchor="middle" font-weight="bold" font-size="13" fill="#000" >S</text>
<text transform="translate(360.2,338.0)" y="3.22" text-anchor="middle" font-weight="bold" font-size="9" fill="#000" >x</text>
<path class="bond" d="M368.6 329.6 L376.6 334.2" style="stroke:#555"/>
<path class="bond" d="M375.5 334.2 L375.7 343.0" style="stroke:#555"/>
<path class="bond" d="M377.7 334.2 L377.9 343.0" style="stroke:#555"/>
<text transform="translate(377.1,348.9)" y="4.65" text-anchor="middle" font-weight="bold" font-size="13" fill="#000" >S</text>
<path class="bond" d="M376.6 334.2 L383.8 330.0" style="stroke:#555"/>
<text transform="translate(389.0,326.5)" y="4.65" text-anchor="middle" font-weight="bold" font-size="13" fill="#000" >S</text>
<path class="bond" d="M394.2 328.2 L396.6 328.6" style="stroke:#555"/>
<text transform="translate(397.8,339.6)" font-weight="bold" font-size="13" fill="#000" letter-spacing="0.25">C<tspan font-size="10.2" dy="3.2">12</tspan><tspan dy="-3.2">H</tspan><tspan font-size="10.2" dy="3.2">25</tspan></text>
<polygon points="351.4,350.8 364.0,358.1 364.0,372.7 351.4,380.0 338.8,372.7 338.8,358.1" fill="url(#bzg)" stroke="#2b9cac" stroke-width="1.3" stroke-linejoin="round"/>
<path d="M342.3 359.0 L350.4 354.3" stroke="#3aa9b6" stroke-width="0.9" fill="none"/>
<path d="M361.5 360.7 L361.5 370.1" stroke="#3aa9b6" stroke-width="0.9" fill="none"/>
<path d="M350.4 376.5 L342.3 371.8" stroke="#3aa9b6" stroke-width="0.9" fill="none"/>
<path class="bond" d="M351.4 380.0 L351.4 393.8 L359.4 398.4" style="stroke:#444"/>
<polygon points="381.8,385.9 342.1,408.4 381.8,430.2" fill="url(#trg)" stroke="#f01212" stroke-width="1" stroke-linejoin="round"/>
<text x="357.2" y="392.8" font-weight="bold" font-size="10.6" fill="#2020f0">Cl</text>
<circle cx="370.4" cy="380.8" r="3.1" fill="none" stroke="#1414f0" stroke-width="0.7"/>
<path d="M368.7 380.8 h3.4" stroke="#1414f0" stroke-width="0.8"/>
<path class="bond" d="M360.4 404.0 L356.6 407.0" style="stroke:#666;stroke-width:0.9"/>
<path class="bond" d="M364.6 406.0 L366.0 410.6" style="stroke:#666;stroke-width:0.9"/>
<path class="bond" d="M368.4 402.4 L372.6 403.6" style="stroke:#666;stroke-width:0.9"/>
<text transform="translate(364.0,401.2)" y="4.30" text-anchor="middle" font-weight="bold" font-size="12" fill="#f01010" >P</text>
<circle cx="371.4" cy="397.2" r="2.6" fill="none" stroke="#f01010" stroke-width="0.7"/>
<path d="M370.0 397.2 h2.9" stroke="#f01010" stroke-width="0.8"/>
<path d="M371.4 395.8 v2.9" stroke="#f01010" stroke-width="0.8"/>
<text transform="translate(377.8,404.6)" y="3.76" text-anchor="middle" font-weight="bold" font-size="10.5" fill="#000" >R</text>
<text transform="translate(354.0,411.2)" y="3.76" text-anchor="middle" font-weight="bold" font-size="10.5" fill="#000" >R</text>
<text transform="translate(367.4,415.2)" y="3.76" text-anchor="middle" font-weight="bold" font-size="10.5" fill="#000" >R</text>
</svg>
</body></html>
